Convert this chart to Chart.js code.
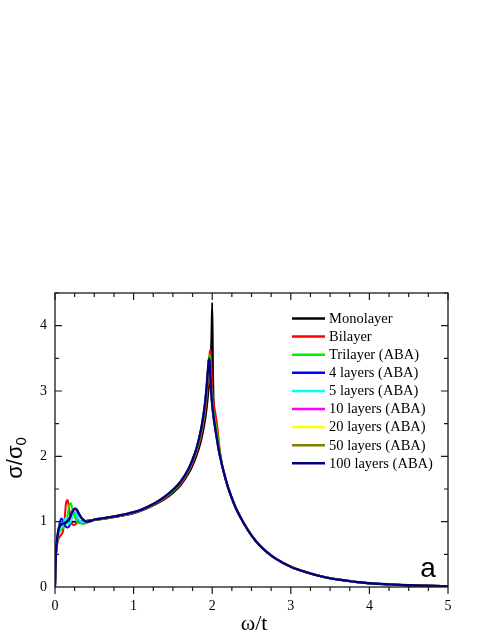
<!DOCTYPE html>
<html>
<head>
<meta charset="utf-8">
<script src="https://cdn.jsdelivr.net/npm/chart.js@4.4.1/dist/chart.umd.min.js"></script>
<style>
html, body { margin: 0; padding: 0; background: #fff; }
#wrap { width: 491px; height: 635px; }
</style>
</head>
<body>
<div id="wrap"><canvas id="chart" width="491" height="635"></canvas></div>
<script>
// frequency grids (omega / t)
const omegaLow = [0, 0.01, 0.02, 0.04, 0.06, 0.08, 0.1, 0.12, 0.14, 0.16, 0.18, 0.2, 0.22, 0.24, 0.26, 0.28, 0.3, 0.33, 0.36, 0.4, 0.45, 0.5];
const omegaPeak = [0.6, 0.7, 0.8, 0.9, 1.0, 1.1, 1.2, 1.3, 1.4, 1.5, 1.6, 1.7, 1.75, 1.8, 1.85, 1.88, 1.91, 1.93, 1.95, 1.96, 1.97, 1.98, 1.99, 2.0, 2.01, 2.02, 2.04, 2.06, 2.08, 2.1];
const omegaTail = [2.13, 2.16, 2.2, 2.25, 2.3, 2.4, 2.5, 2.6, 2.7, 2.8, 3.0, 3.2, 3.4, 3.6, 3.8, 4.0, 4.25, 4.5, 4.75, 5.0];

// low energy part, one per stack
const monoLow    = [0, 0.45, 0.64, 0.82, 0.9, 0.94, 0.96, 0.97, 0.98, 0.985, 0.99, 0.995, 1.0, 1.0, 1.0, 1.0, 1.0, 1.005, 1.01, 1.015, 1.02, 1.03];
const biLow      = [0, 0.45, 0.6, 0.72, 0.77, 0.8, 0.85, 1.0, 1.28, 1.33, 1.2, 1.02, 0.96, 0.95, 0.96, 0.98, 0.99, 1.0, 1.0, 1.01, 1.02, 1.03];
const triLow     = [0, 0.45, 0.62, 0.78, 0.85, 0.88, 0.9, 0.93, 0.98, 1.1, 1.24, 1.28, 1.2, 1.12, 1.05, 1.0, 0.98, 0.97, 0.965, 0.98, 1.0, 1.02];
const fourLow    = [0, 0.45, 0.63, 0.85, 0.98, 1.05, 1.02, 0.96, 0.92, 0.91, 0.93, 1.0, 1.12, 1.17, 1.14, 1.08, 1.03, 1.0, 0.99, 0.99, 1.01, 1.03];
const fiveLow    = [0, 0.45, 0.63, 0.8, 0.88, 0.92, 0.95, 1.02, 1.06, 1.0, 0.97, 1.0, 1.1, 1.17, 1.15, 1.09, 1.04, 1.0, 0.99, 0.99, 1.01, 1.03];
const tenLow     = [0, 0.45, 0.64, 0.84, 0.92, 0.95, 0.97, 0.99, 1.0, 1.02, 1.05, 1.1, 1.15, 1.18, 1.19, 1.17, 1.12, 1.06, 1.02, 1.0, 1.01, 1.03];
const twentyLow  = [0, 0.45, 0.65, 0.85, 0.93, 0.96, 0.97, 0.98, 1.0, 1.01, 1.04, 1.09, 1.15, 1.19, 1.2, 1.18, 1.13, 1.07, 1.03, 1.0, 1.01, 1.03];
const fiftyLow   = [0, 0.45, 0.65, 0.85, 0.93, 0.96, 0.97, 0.98, 0.99, 1.01, 1.04, 1.09, 1.15, 1.19, 1.2, 1.18, 1.13, 1.07, 1.03, 1.0, 1.01, 1.03];
const hundredLow = [0, 0.45, 0.65, 0.85, 0.93, 0.96, 0.97, 0.98, 0.99, 1.01, 1.04, 1.09, 1.15, 1.19, 1.2, 1.18, 1.13, 1.07, 1.03, 1.0, 1.01, 1.03];

// van Hove peak region
const monoPeak  = [1.04, 1.06, 1.08, 1.1, 1.13, 1.17, 1.22, 1.28, 1.35, 1.44, 1.56, 1.74, 1.86, 2.01, 2.2, 2.36, 2.56, 2.74, 2.98, 3.08, 3.2, 3.45, 3.8, 4.35, 3.3, 2.75, 2.5, 2.32, 2.15, 2.02];
const biPeak    = [1.04, 1.06, 1.08, 1.105, 1.135, 1.175, 1.225, 1.29, 1.36, 1.46, 1.58, 1.77, 1.9, 2.06, 2.27, 2.45, 2.68, 2.9, 3.22, 3.42, 3.6, 3.63, 3.35, 3.05, 2.9, 2.8, 2.66, 2.5, 2.28, 2.06];
const triPeak   = [1.045, 1.065, 1.085, 1.11, 1.14, 1.18, 1.23, 1.3, 1.37, 1.47, 1.6, 1.79, 1.93, 2.09, 2.31, 2.5, 2.75, 2.98, 3.35, 3.52, 3.55, 3.3, 3.0, 2.85, 2.75, 2.66, 2.52, 2.38, 2.22, 2.05];
const multiPeak = [1.05, 1.07, 1.09, 1.115, 1.145, 1.185, 1.24, 1.305, 1.385, 1.485, 1.615, 1.81, 1.95, 2.12, 2.36, 2.56, 2.82, 3.07, 3.38, 3.5, 3.42, 3.18, 2.95, 2.8, 2.68, 2.58, 2.42, 2.27, 2.12, 2.0];

// high energy tail (all stacks coincide)
const tailAll = [1.84, 1.7, 1.53, 1.36, 1.21, 0.98, 0.79, 0.64, 0.53, 0.44, 0.31, 0.225, 0.16, 0.115, 0.082, 0.058, 0.04, 0.027, 0.018, 0.012];

const seriesNames = ['Monolayer', 'Bilayer', 'Trilayer (ABA)', '4 layers (ABA)', '5 layers (ABA)', '10 layers (ABA)', '20 layers (ABA)', '50 layers (ABA)', '100 layers (ABA)'];
const seriesColors = ['#000000', '#ff0000', '#00ee00', '#0000ff', '#00ffff', '#ff00ff', '#ffff00', '#808000', '#000080'];
const seriesLow = [monoLow, biLow, triLow, fourLow, fiveLow, tenLow, twentyLow, fiftyLow, hundredLow];
const seriesPeak = [monoPeak, biPeak, triPeak, multiPeak, multiPeak, multiPeak, multiPeak, multiPeak, multiPeak];

const xTickLabels = [0, 1, 2, 3, 4, 5];
const yTickLabels = [0, 1, 2, 3, 4];

const omegaAll = omegaLow.concat(omegaPeak, omegaTail);

const datasets = seriesNames.map((name, i) => {
    const ys = seriesLow[i].concat(seriesPeak[i], tailAll);
    return {
        label: name,
        data: omegaAll.map((x, k) => ({ x: x, y: ys[k] })),
        borderColor: seriesColors[i],
        backgroundColor: seriesColors[i],
        borderWidth: i == 8 ? 2.4 : 2,
        pointRadius: 0,
        cubicInterpolationMode: 'monotone',
        order: 8 - i
    };
});

// frame, ticks, titles, legend
const decorations = {
    id: 'decorations',
    afterDraw(chart) {
        const ctx = chart.ctx;
        const a = chart.chartArea;
        const xs = chart.scales.x, ys = chart.scales.y;
        ctx.save();
        ctx.strokeStyle = '#1a1a1a';
        ctx.lineWidth = 1.3;
        ctx.strokeRect(a.left, a.top, a.right - a.left, a.bottom - a.top);

        ctx.lineWidth = 1.2;
        ctx.beginPath();
        for (let v = 0; v <= 5.001; v += 0.25) {
            const major = Math.abs(v - Math.round(v)) < 0.01;
            const len = major ? 7 : 4;
            const px = xs.getPixelForValue(v);
            // bottom ticks point out, top ticks point in
            ctx.moveTo(px, a.bottom); ctx.lineTo(px, a.bottom + len);
            ctx.moveTo(px, a.top); ctx.lineTo(px, a.top + len);
        }
        for (let v = 0.5; v <= 4.5; v += 0.5) {
            const major = Math.abs(v - Math.round(v)) < 0.01;
            const len = major ? 7 : 4;
            const py = ys.getPixelForValue(v);
            ctx.moveTo(a.left, py); ctx.lineTo(a.left + len, py);
            ctx.moveTo(a.right, py); ctx.lineTo(a.right - len, py);
        }
        ctx.stroke();

        // y title  sigma / sigma_0
        ctx.fillStyle = '#000';
        ctx.save();
        ctx.translate(22, 458);
        ctx.rotate(-Math.PI / 2);
        ctx.font = '22px "Liberation Sans", Arial, sans-serif';
        const mainW = ctx.measureText('σ/σ').width;
        ctx.font = '15px "Liberation Sans", Arial, sans-serif';
        const subW = ctx.measureText('0').width;
        const x0 = -(mainW + subW) / 2;
        ctx.textBaseline = 'alphabetic';
        ctx.textAlign = 'left';
        ctx.font = '22px "Liberation Sans", Arial, sans-serif';
        ctx.fillText('σ/σ', x0, 0);
        ctx.font = '15px "Liberation Sans", Arial, sans-serif';
        ctx.fillText('0', x0 + mainW, 4);
        ctx.restore();

        // x title
        ctx.font = '22px "Liberation Serif", "Times New Roman", serif';
        ctx.textAlign = 'center';
        ctx.textBaseline = 'alphabetic';
        ctx.fillText('ω/t', 254, 630);

        // panel letter
        ctx.font = '28px "Liberation Sans", Arial, sans-serif';
        ctx.fillText('a', 428, 577);

        // legend
        ctx.font = '14.5px "Liberation Serif", "Times New Roman", serif';
        ctx.textAlign = 'left';
        ctx.textBaseline = 'middle';
        seriesNames.forEach((name, i) => {
            const y = 318.5 + i * 18.1;
            ctx.strokeStyle = seriesColors[i];
            ctx.lineWidth = 2.5;
            ctx.beginPath();
            ctx.moveTo(292, y); ctx.lineTo(325, y);
            ctx.stroke();
            ctx.fillStyle = '#000';
            ctx.fillText(name, 329, y + 0.5);
        });
        ctx.restore();
    }
};

new Chart(document.getElementById('chart'), {
    type: 'line',
    data: { datasets: datasets },
    options: {
        responsive: false,
        animation: false,
        layout: { padding: { top: 293, right: 43, left: 0, bottom: 0 } },
        plugins: { legend: { display: false }, tooltip: { enabled: false } },
        scales: {
            x: {
                type: 'linear',
                min: 0,
                max: 5,
                afterBuildTicks: (s) => { s.ticks = xTickLabels.map(v => ({ value: v })); },
                afterFit: (s) => { s.height = 48; },
                grid: { display: false, drawTicks: false },
                border: { display: false },
                ticks: {
                    color: '#000',
                    padding: 11,
                    maxRotation: 0,
                    font: { family: '"Liberation Serif", "Times New Roman", serif', size: 14 }
                }
            },
            y: {
                type: 'linear',
                min: 0,
                max: 4.5,
                afterBuildTicks: (s) => { s.ticks = yTickLabels.map(v => ({ value: v })); },
                afterFit: (s) => { s.width = 55; },
                grid: { display: false, drawTicks: false },
                border: { display: false },
                ticks: {
                    color: '#000',
                    padding: 8,
                    font: { family: '"Liberation Serif", "Times New Roman", serif', size: 14 }
                }
            }
        }
    },
    plugins: [decorations]
});
</script>
</body>
</html>
